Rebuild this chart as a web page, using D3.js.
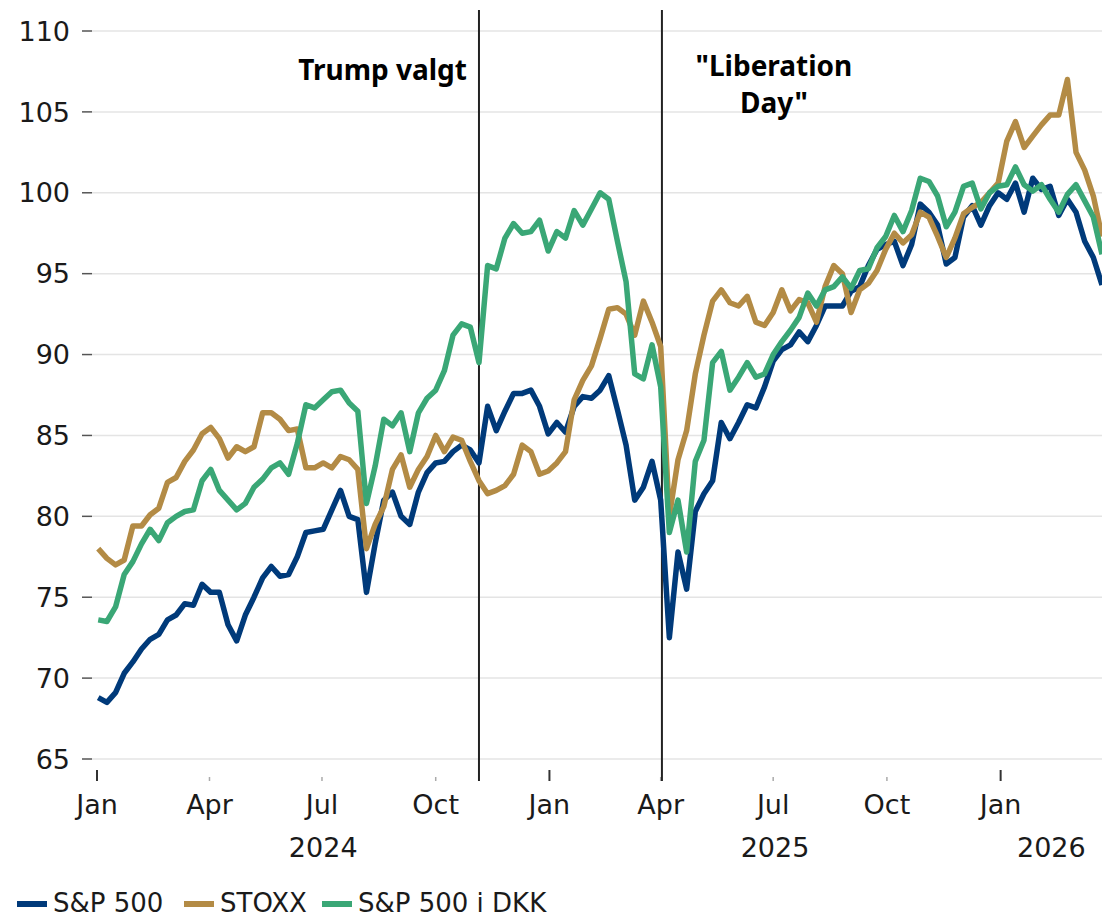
<!DOCTYPE html>
<html>
<head>
<meta charset="utf-8">
<script src="https://cdn.jsdelivr.net/npm/d3@7"></script>
<style>
  body { margin: 0; background: #fff; }
  svg { display: block; }
  text { font-family: "DejaVu Sans", sans-serif; fill: #1a1a1a; }
  .note { font-family: "Noto Sans", "Open Sans", sans-serif; font-weight: 700; fill: #000; }
</style>
</head>
<body>
<div id="chart"></div>
<script>
// weekly observations (Tuesdays) from 2 Jan 2024 to 24 Mar 2026
const weeks = d3.utcTuesday.range(new Date(Date.UTC(2024, 0, 2)), new Date(Date.UTC(2026, 2, 25)));

const sp500 = [
  68.8, 68.5, 69.1, 70.3, 71.0, 71.8, 72.4, 72.7, 73.6, 73.9,
  74.6, 74.5, 75.8, 75.3, 75.3, 73.3, 72.3, 73.9, 75.0, 76.2,
  76.9, 76.3, 76.4, 77.5, 79.0, 79.1, 79.2, 80.4, 81.6, 80.0,
  79.8, 75.3, 78.3, 81.0, 81.5, 80.0, 79.5, 81.5, 82.7, 83.3,
  83.4, 84.0, 84.4, 84.1, 83.3, 86.8, 85.3, 86.5, 87.6, 87.6,
  87.8, 86.8, 85.1, 85.8, 85.2, 86.8, 87.4, 87.3, 87.8, 88.7,
  86.6, 84.4, 81.0, 81.8, 83.4, 81.0, 72.5, 77.8, 75.5, 80.3,
  81.4, 82.2, 85.8, 84.8, 85.8, 86.9, 86.7, 88.0, 89.6, 90.3,
  90.6, 91.4, 90.8, 91.8, 93.0, 93.0, 93.0, 93.9, 94.2, 95.5,
  96.5, 96.8, 97.0, 95.5, 96.8, 99.3, 98.8, 98.0, 95.6, 96.0,
  98.5, 99.2, 98.0, 99.2, 100.0, 99.6, 100.6, 98.8, 100.9, 100.2,
  100.4, 98.6, 99.6, 98.8, 97.0, 96.0, 94.3
];

const stoxx = [
  78.0, 77.4, 77.0, 77.3, 79.4, 79.4, 80.1, 80.5, 82.1, 82.4,
  83.4, 84.1, 85.1, 85.5, 84.8, 83.6, 84.3, 84.0, 84.3, 86.4,
  86.4, 86.0, 85.3, 85.4, 83.0, 83.0, 83.3, 83.0, 83.7, 83.5,
  82.9, 78.0, 79.5, 80.6, 82.9, 83.8, 81.8, 82.9, 83.7, 85.0,
  84.0, 84.9, 84.7, 83.4, 82.2, 81.4, 81.6, 81.9, 82.6, 84.4,
  84.0, 82.6, 82.8, 83.3, 84.0, 87.2, 88.4, 89.3, 91.0, 92.8,
  92.9, 92.5, 91.2, 93.3, 92.0, 90.5, 80.0, 83.5, 85.3, 88.8,
  91.2, 93.3, 94.0, 93.2, 93.0, 93.6, 92.0, 91.8, 92.6, 94.0,
  92.7, 93.4, 93.2, 92.0, 94.2, 95.5, 95.0, 92.6, 94.0, 94.4,
  95.2, 96.5, 97.5, 96.9, 97.4, 98.8, 98.5, 97.3, 96.0, 97.2,
  98.7, 99.1, 99.4, 100.0, 100.6, 103.2, 104.4, 102.8, 103.5, 104.2,
  104.8, 104.8, 107.0, 102.5, 101.4, 99.8, 97.3
];

const sp500dkk = [
  73.6, 73.5, 74.4, 76.4, 77.2, 78.3, 79.2, 78.5, 79.6, 80.0,
  80.3, 80.4, 82.2, 82.9, 81.6, 81.0, 80.4, 80.8, 81.8, 82.3,
  83.0, 83.3, 82.6, 84.5, 86.9, 86.7, 87.2, 87.7, 87.8, 87.0,
  86.5, 80.8, 83.1, 86.0, 85.6, 86.4, 84.0, 86.4, 87.3, 87.8,
  89.0, 91.2, 91.9, 91.7, 89.5, 95.5, 95.3, 97.2, 98.1, 97.5,
  97.6, 98.3, 96.4, 97.6, 97.2, 98.9, 98.0, 99.0, 100.0, 99.6,
  97.0, 94.5, 88.8, 88.5, 90.6, 88.0, 79.0, 81.0, 77.8, 83.4,
  84.7, 89.5, 90.2, 87.8, 88.6, 89.5, 88.6, 88.8, 90.0, 90.8,
  91.5, 92.3, 93.8, 93.0, 94.0, 94.2, 94.8, 94.1, 95.2, 95.3,
  96.6, 97.3, 98.6, 97.6, 98.9, 100.9, 100.7, 99.8, 97.9, 98.8,
  100.4, 100.6, 99.0, 100.0, 100.4, 100.5, 101.6, 100.5, 100.1, 100.5,
  99.6, 98.8, 99.9, 100.5, 99.5, 98.5, 96.2
];

const seriesNames = ["S&P 500", "STOXX", "S&P 500 i DKK"];
const seriesColors = ["#003a7a", "#b38b45", "#3aa776"];
const yTicks = [65, 70, 75, 80, 85, 90, 95, 100, 105, 110];
const monthNames = { 0: "Jan", 3: "Apr", 6: "Jul", 9: "Oct" };
const events = [
  { date: new Date(Date.UTC(2024, 10, 5)), lines: ["Trump valgt"], anchor: "end" },
  { date: new Date(Date.UTC(2025, 3, 2)), lines: ["\"Liberation", "Day\""], anchor: "middle" }
];

const width = 1102, height = 919;

const x = d3.scaleUtc()
  .domain([new Date(Date.UTC(2024, 0, 1)), new Date(Date.UTC(2026, 2, 24))])
  .range([97, 1102]);
const y = d3.scaleLinear().domain([65, 110]).range([759, 31]);

const svg = d3.select("#chart").append("svg")
  .attr("width", width).attr("height", height)
  .attr("viewBox", `0 0 ${width} ${height}`);

// gridlines + y labels
const yAxis = svg.append("g");
yAxis.selectAll("line.grid").data(yTicks).join("line")
  .attr("class", "grid")
  .attr("x1", 92).attr("x2", width)
  .attr("y1", d => y(d)).attr("y2", d => y(d))
  .attr("stroke", "#e4e4e4").attr("stroke-width", 1.5);
yAxis.selectAll("line.tick").data(yTicks).join("line")
  .attr("class", "tick")
  .attr("x1", 82).attr("x2", 92)
  .attr("y1", d => y(d)).attr("y2", d => y(d))
  .attr("stroke", "#555").attr("stroke-width", 1.5);
yAxis.selectAll("text").data(yTicks).join("text")
  .attr("x", 70).attr("y", d => y(d)).attr("dy", "0.36em")
  .attr("text-anchor", "end")
  .attr("font-size", 27)
  .text(d => d);

// x axis
const xTicks = d3.utcMonth.every(3).range(x.domain()[0], d3.utcDay.offset(x.domain()[1], 1));
const xAxis = svg.append("g");
xAxis.selectAll("line").data(xTicks).join("line")
  .attr("x1", d => x(d)).attr("x2", d => x(d))
  .attr("y1", d => d.getUTCMonth() === 0 ? 770 : 777)
  .attr("y2", 781)
  .attr("stroke", d => d.getUTCMonth() === 0 ? "#333" : "#aaa")
  .attr("stroke-width", d => d.getUTCMonth() === 0 ? 2 : 1.5);
xAxis.selectAll("text").data(xTicks).join("text")
  .attr("x", d => x(d)).attr("y", 814)
  .attr("text-anchor", "middle")
  .attr("font-size", 27)
  .text(d => monthNames[d.getUTCMonth()]);

const years = d3.utcYear.range(d3.utcYear.floor(x.domain()[0]), x.domain()[1]);
xAxis.selectAll("text.year").data(years).join("text")
  .attr("class", "year")
  .attr("x", d => {
    const a = Math.max(x(d), x.range()[0]);
    const b = Math.min(x(d3.utcYear.offset(d, 1)), x.range()[1]);
    return (a + b) / 2;
  })
  .attr("y", 857)
  .attr("text-anchor", "middle")
  .attr("font-size", 27)
  .text(d => d.getUTCFullYear());

// event lines
const ev = svg.append("g");
ev.selectAll("line").data(events).join("line")
  .attr("x1", d => x(d.date)).attr("x2", d => x(d.date))
  .attr("y1", 10).attr("y2", 781)
  .attr("stroke", "#222").attr("stroke-width", 2);

// series
const all = [sp500, stoxx, sp500dkk];
const line = d3.line()
  .x((d, i) => x(weeks[i]))
  .y(d => y(d));
svg.append("g").selectAll("path").data(all).join("path")
  .attr("d", line)
  .attr("fill", "none")
  .attr("stroke", (d, i) => seriesColors[i])
  .attr("stroke-width", 5.5)
  .attr("stroke-linejoin", "round");

// event labels
ev.selectAll("text").data(events).join("text")
  .attr("class", "note")
  .attr("font-size", 28)
  .attr("text-anchor", d => d.anchor)
  .attr("x", d => d.anchor === "end" ? x(d.date) - 12 : x(d.date) + 112)
  .attr("y", d => d.anchor === "end" ? 80 : 76)
  .each(function (d) {
    const t = d3.select(this);
    d.lines.forEach((s, k) => {
      t.append("tspan")
        .attr("x", t.attr("x"))
        .attr("dy", k === 0 ? 0 : 37)
        .text(s);
    });
  });

// legend
const legendX = [17, 184, 322];
const lg = svg.append("g").selectAll("g").data(seriesNames).join("g")
  .attr("transform", (d, i) => `translate(${legendX[i]},904)`);
lg.append("line")
  .attr("x1", 0).attr("x2", 30)
  .attr("stroke", (d, i) => seriesColors[i])
  .attr("stroke-width", 6);
lg.append("text")
  .attr("x", 36).attr("y", 8)
  .attr("font-size", 26)
  .text(d => d);
</script>
</body>
</html>
